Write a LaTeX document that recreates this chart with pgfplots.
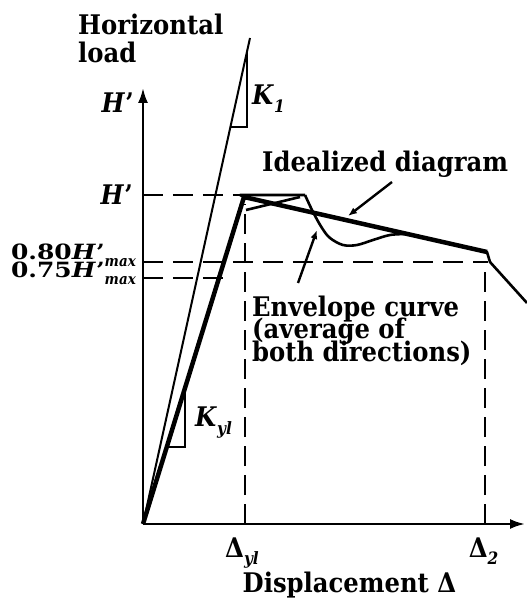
\documentclass[border=0pt]{standalone}
\usepackage{pgfplots}
\pgfplotsset{compat=1.18}
\usetikzlibrary{arrows.meta}
\usepackage{fontspec}
\setmainfont{DejaVu Serif Condensed}
\newcommand\lbl{\fontsize{27bp}{22.5bp}\selectfont\bfseries}
\newcommand\slbl{\fontsize{21bp}{21bp}\selectfont\bfseries}
\newcommand\sub[1]{\raisebox{-0.28em}{\fontsize{17bp}{17bp}\selectfont\bfseries\itshape #1}}
\newcommand\ssub[1]{\raisebox{-0.3em}{\fontsize{15bp}{15bp}\selectfont\bfseries\itshape #1}}
\newcommand\Hp{\textit{H}'}
\tikzset{lab/.style={font=\lbl, inner sep=0pt},
         slab/.style={font=\slbl, inner sep=0pt}}
\begin{document}
\begin{tikzpicture}
\useasboundingbox (-143bp,-86bp) rectangle (384bp,524bp);
\begin{axis}[scale only axis, width=382bp, height=436bp,
  xmin=0, xmax=382, ymin=0, ymax=436,
  axis lines=none, ticks=none, clip=false]

% axes
\addplot[line width=2.4bp, -{Latex[length=15bp,width=10bp]}] coordinates {(0,0) (0,436)};
\addplot[line width=2.4bp, -{Latex[length=15bp,width=10bp]}] coordinates {(0,0) (382,0)};

% reference levels and displacements
\addplot[line width=2bp, dash pattern=on 20bp off 10bp] coordinates {(0,329) (97,329)};
\addplot[line width=2bp, dash pattern=on 20bp off 10bp] coordinates {(0,262) (345,262)};
\addplot[line width=2bp, dash pattern=on 20bp off 10bp] coordinates {(0,246) (84,246)};
\addplot[line width=2bp, dash pattern=on 20bp off 9bp] coordinates {(102,0) (102,320)};
\addplot[line width=2bp, dash pattern=on 20bp off 9bp] coordinates {(342,0) (342,262)};

% initial stiffness K1
\addplot[line width=2bp] coordinates {(0,0) (107,486)};
\addplot[line width=1.6bp] coordinates {(87.4,397) (104,397) (104,472.4)};

% idealized diagram
\addplot[line width=4.5bp, line join=round] coordinates {(0,0) (101,327) (344,272)};
\addplot[line width=1.6bp] coordinates {(23.8,77) (42,77) (42,136)};

% envelope curve
\addplot[line width=2.6bp, line join=round] coordinates {(0,0) (101,327) (97,329) (162,329)};
\addplot[line width=2.6bp] coordinates {(103,314) (157,327)};
\addplot[line width=2.6bp, smooth, tension=0.55] coordinates {
  (162,329) (170,312) (179,296) (187,286) (200,279) (214,279) (230,284) (247,289) (264,290)};
\addplot[line width=2.6bp, line join=round] coordinates {(264,290) (344,272) (347,262) (384,221)};

% pointers
\addplot[line width=2.4bp, -{Latex[length=9bp,width=7bp]}] coordinates {(249,342) (205,308)};
\addplot[line width=2.4bp, -{Latex[length=9bp,width=7bp]}] coordinates {(155,241) (174,294)};

% labels
\node[lab, anchor=base west] at (axis cs:-65,489) {Horizontal};
\node[lab, anchor=base west] at (axis cs:-65,461) {load};
\node[lab, anchor=base east] at (axis cs:-9,411) {\Hp};
\node[lab, anchor=base east] at (axis cs:-10,319) {\Hp};
\node[slab, anchor=base east] at (axis cs:-7,264) {\scalebox{1.32}[1]{0.80\Hp}\ssub{max}};
\node[slab, anchor=base east] at (axis cs:-7,246) {\scalebox{1.32}[1]{0.75\Hp}\ssub{max}};
\node[lab, anchor=base west] at (axis cs:109,419) {\textit{K}\sub{1}};
\node[lab, anchor=base west] at (axis cs:52,97) {\textit{K}\sub{yl}};
\node[lab, anchor=base west] at (axis cs:119,352) {Idealized diagram};
\node[lab, anchor=base west] at (axis cs:109,207) {Envelope curve};
\node[lab, anchor=base west] at (axis cs:109,185) {(average of};
\node[lab, anchor=base west] at (axis cs:109,162) {both directions)};
\node[lab, anchor=base] at (axis cs:99,-33) {Δ\sub{yl}};
\node[lab, anchor=base] at (axis cs:340.5,-33) {Δ\sub{2}};
\node[lab, anchor=base] at (axis cs:206.5,-68) {Displacement Δ};
\end{axis}
\end{tikzpicture}
\end{document}
